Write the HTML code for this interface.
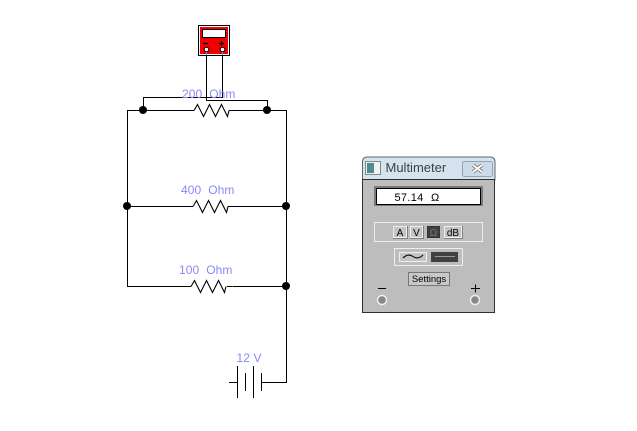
<!DOCTYPE html>
<html><head><meta charset="utf-8"><style>
html,body{margin:0;padding:0;background:#fff;width:637px;height:431px;overflow:hidden}
svg{display:block}
text{font-family:"Liberation Sans",sans-serif}
</style></head><body>
<svg width="637" height="431" viewBox="0 0 637 431" xmlns="http://www.w3.org/2000/svg">
<rect width="637" height="431" fill="#fff"/>
<!-- Voltmeter -->
<rect x="198.500" y="25.500" width="31" height="30" fill="#fff" stroke="#000" shape-rendering="crispEdges"/>
<rect x="200" y="27" width="28" height="27" fill="#f00000"/>
<rect x="202.500" y="29.500" width="23" height="8" fill="#fff" stroke="#000" shape-rendering="crispEdges"/>
<path d="M203 43.500h5M219 43.500h5M221.500 41v5" stroke="#000" stroke-width="1.300" fill="none"/>
<circle cx="206.500" cy="49.500" r="2.300" fill="#fff" stroke="#000"/>
<circle cx="222.500" cy="49.500" r="2.300" fill="#fff" stroke="#000"/>
<path d="M206.500 52v3M222.500 52v3" stroke="#20c0c0" fill="none" shape-rendering="crispEdges"/>
<!-- Circuit wires -->
<g fill="none" stroke="#000" stroke-width="1" shape-rendering="crispEdges">
<path d="M206.500 55V100.500H267.500V110"/>
<path d="M222.500 55V97.500H143.500V110"/>
<path d="M194 110.500H127.500V286.500H191"/>
<path d="M229 110.500H286.500V382.500H262"/>
<path d="M127.500 206.500H193M228 206.500H286.500"/>
<path d="M227 286.500H286.500"/>
<path d="M229 382.500H237.500M237.500 366V398M245.500 373V391M253.500 366V398M261.500 373V391"/>
</g>
<g fill="none" stroke="#000" stroke-width="1.100">
<path d="M194 110.500l3.500-6 6 12 6-12 6 12 6-12 6 12 1.500-6"/>
<path d="M193 206.500l3.500-6 6 12 6-12 6 12 6-12 6 12 1.500-6"/>
<path d="M191 286.500l3.500-6 6 12 6-12 6 12 6-12 6 12 1.500-6"/>
</g>
<rect x="232" y="286" width="1" height="1" fill="#f00"/>
<g fill="#000">
<circle cx="143" cy="110" r="4"/><circle cx="267" cy="110" r="4"/>
<circle cx="127" cy="206" r="4"/><circle cx="286" cy="206" r="4"/><circle cx="286" cy="286" r="4"/>
</g>
<!-- Labels -->
<g fill="#8888f4" font-size="12" letter-spacing=".1">
<text x="182" y="98">200 &#160;Ohm</text>
<text x="181" y="194">400 &#160;Ohm</text>
<text x="179" y="274">100 &#160;Ohm</text>
<text x="236.500" y="362">12 V</text>
</g>
<!-- Multimeter window -->
<path d="M362.500 162q0-5 5-5h122.500q5 0 5 5v18h-132.500z" fill="#d6e3ee" stroke="#5d6770"/>
<rect x="362.500" y="179.500" width="132" height="133" fill="#bdbdbd" stroke="#303030" shape-rendering="crispEdges"/>
<rect x="365.500" y="161.500" width="15" height="13" fill="#eef2f6" stroke="#888" shape-rendering="crispEdges"/>
<rect x="367" y="163" width="7" height="10" fill="#4f8a8f"/>
<text x="385.500" y="172" font-size="13" fill="#39424c">Multimeter</text>
<rect x="462.500" y="161.500" width="30" height="15" rx="2" fill="#cddbe8" stroke="#93a3b3"/>
<path d="M473 165l9 7M482 165l-9 7" stroke="#6e6e6e" stroke-width="3.600" fill="none"/>
<path d="M473 165l9 7M482 165l-9 7" stroke="#fff" stroke-width="2" fill="none"/>
<rect x="374" y="186" width="109" height="20" fill="#7a7a7a"/>
<rect x="376.500" y="188.500" width="104" height="16" fill="#fff" stroke="#000" shape-rendering="crispEdges"/>
<text x="394.500" y="201" font-size="11" letter-spacing=".3" fill="#000">57.14</text>
<text x="431" y="201" font-size="11" fill="#000">&#937;</text>
<!-- Mode panel -->
<g shape-rendering="crispEdges">
<rect x="374.500" y="222.500" width="108" height="19" fill="#bdbdbd" stroke="#eee"/>
<rect x="393.500" y="226.500" width="13" height="11" fill="#c4c4c4" stroke="#eee"/>
<rect x="410.500" y="226.500" width="12" height="11" fill="#c4c4c4" stroke="#eee"/>
<rect x="427.500" y="226.500" width="12" height="11" fill="#404040" stroke="#333"/>
<rect x="444.500" y="226.500" width="17" height="11" fill="#c4c4c4" stroke="#eee"/>
<path d="M393 238.500h14M410 238.500h13M444 238.500h18M407.500 226v13M423.500 226v13M462.500 226v13" stroke="#808080" fill="none"/>
</g>
<g font-size="10" text-anchor="middle" fill="#000">
<text x="400" y="236">A</text><text x="416.500" y="236">V</text>
<text x="433.500" y="236" fill="#777">&#937;</text><text x="453" y="236">dB</text>
</g>
<!-- AC/DC panel -->
<g shape-rendering="crispEdges">
<rect x="394.500" y="248.500" width="68" height="17" fill="#bdbdbd" stroke="#eee"/>
<rect x="399.500" y="252.500" width="27" height="9" fill="#c4c4c4" stroke="#eee"/>
<rect x="431" y="252" width="27" height="10" fill="#404040"/>
<path d="M435 256.500h20" stroke="#999" fill="none"/>
<rect x="408.500" y="272.500" width="41" height="13" fill="#c8c8c8" stroke="#777"/>
<path d="M378 288.500h8M471 288.500h9M475.500 284.500v8" stroke="#000" fill="none"/>
</g>
<path d="M403 258q5-5 10-1.500t10-1.500" fill="none" stroke="#000"/>
<text x="429" y="282" font-size="9.500" text-anchor="middle" fill="#000">Settings</text>
<g fill="#888" stroke="#eee" stroke-width="1.500">
<circle cx="382" cy="300" r="4.500"/><circle cx="475" cy="300" r="4.500"/>
</g>
</svg>
</body></html>
